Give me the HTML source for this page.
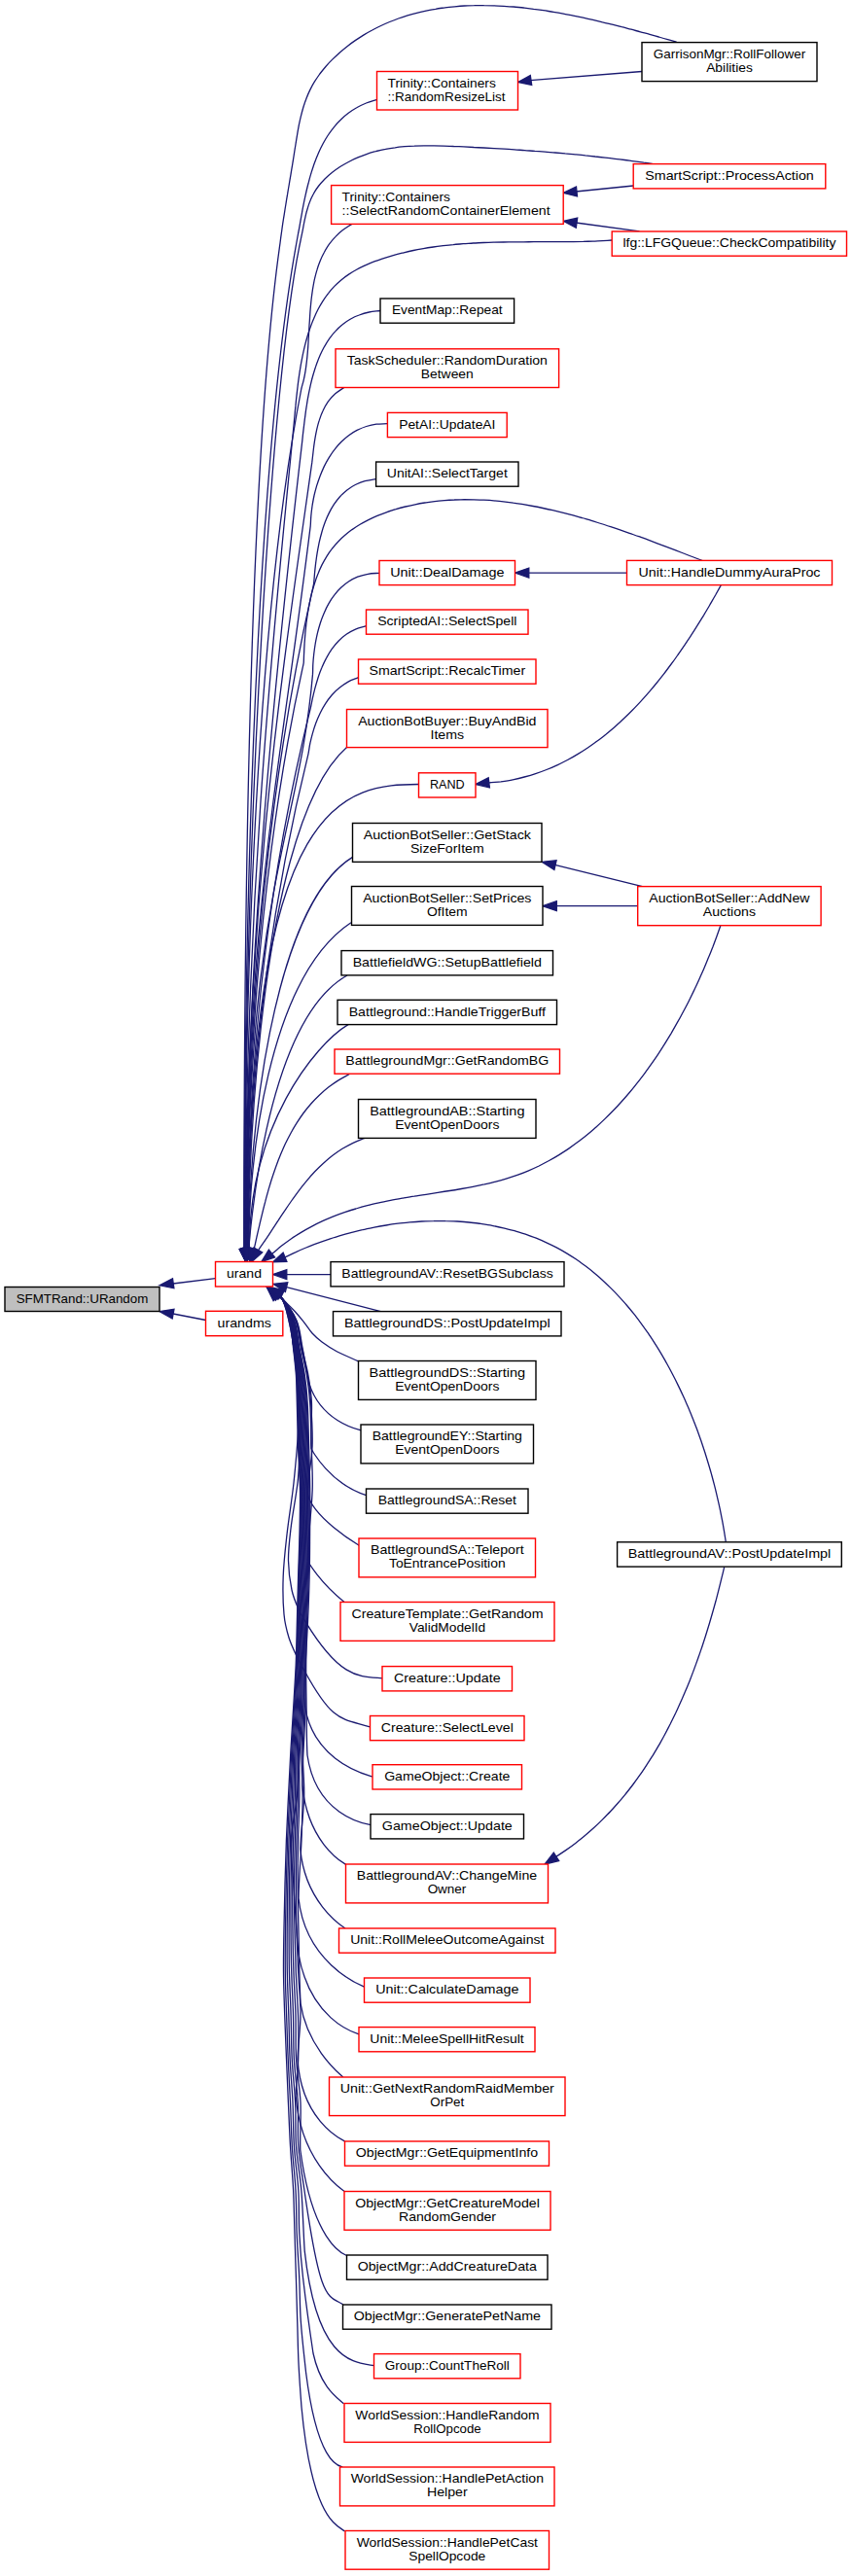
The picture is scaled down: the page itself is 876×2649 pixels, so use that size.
<!DOCTYPE html><html><head><meta charset="utf-8"><title>urand caller graph</title><style>html,body{margin:0;padding:0;background:#fff}svg{display:block}text{font-family:"Liberation Sans",sans-serif;font-size:13px;fill:#000}</style></head><body>
<svg width="876" height="2649" viewBox="0 0 876 2649">
<rect width="876" height="2649" fill="#fff"/>
<g fill="none" stroke="#191970" stroke-width="1.3">
<path d="M695.6,43.2C692.6,42.3 689.6,41.5 686.6,40.6C683.5,39.8 680.4,38.9 677.4,38.0C674.2,37.2 671.1,36.3 668.0,35.4C664.9,34.5 661.7,33.7 658.5,32.8C655.3,31.9 652.1,31.1 648.9,30.2C645.7,29.4 642.5,28.5 639.2,27.7C636.0,26.8 632.7,26.0 629.4,25.2C626.1,24.4 622.8,23.5 619.5,22.8C616.2,22.0 612.9,21.2 609.5,20.4C606.2,19.7 602.8,18.9 599.5,18.2C596.1,17.5 592.7,16.8 589.4,16.1C586.0,15.4 582.6,14.8 579.2,14.1C575.8,13.5 572.4,12.9 569.0,12.3C565.6,11.8 562.2,11.2 558.8,10.7C555.4,10.2 552.0,9.7 548.6,9.3C545.2,8.8 541.7,8.4 538.3,8.0C534.9,7.7 531.5,7.3 528.1,7.0C524.7,6.7 521.3,6.5 517.9,6.3C514.5,6.1 511.1,5.9 507.7,5.8C504.3,5.7 500.9,5.6 497.6,5.6C494.2,5.5 490.8,5.6 487.5,5.7C484.1,5.7 480.8,5.9 477.4,6.0C474.1,6.2 470.8,6.5 467.5,6.8C464.2,7.1 460.9,7.4 457.6,7.8C454.3,8.3 451.0,8.7 447.8,9.3C444.5,9.8 441.3,10.4 438.1,11.1C434.9,11.8 431.7,12.5 428.5,13.3C425.3,14.1 422.2,15.0 419.1,15.9C415.9,16.9 412.8,17.9 409.7,19.0C406.7,20.1 403.6,21.3 400.6,22.5C397.5,23.8 394.5,25.1 391.6,26.5C388.6,27.9 385.6,29.4 382.7,31.0C379.8,32.5 376.9,34.2 374.1,35.9C371.2,37.7 368.3,39.5 365.6,41.4C362.8,43.3 360.0,45.3 357.3,47.4C354.6,49.5 352.0,51.7 349.4,53.9C346.9,56.2 344.4,58.5 342.0,60.9C339.6,63.2 337.3,65.7 335.1,68.2C332.9,70.8 330.8,73.3 328.8,76.0C326.9,78.7 325.0,81.4 323.3,84.2C321.6,86.9 320.1,89.8 318.7,92.6C317.3,95.5 316.0,98.5 314.9,101.4C313.7,104.4 312.7,107.5 311.8,110.5C310.9,113.6 310.1,116.7 309.3,119.8C308.5,123.0 307.9,126.2 307.2,129.4C306.6,132.6 306.0,135.8 305.5,139.1C304.9,142.4 304.4,145.7 303.9,149.0C303.3,152.3 302.8,155.7 302.3,159.0C301.8,162.4 301.2,165.7 300.7,169.1C300.1,172.5 299.5,175.9 299.0,179.3C298.4,182.7 297.8,186.1 297.3,189.5C296.7,192.9 296.1,196.3 295.6,199.7C295.0,203.1 294.4,206.6 293.9,210.0C293.3,213.3 292.8,216.7 292.3,220.1C291.7,223.5 291.2,226.8 290.7,230.2C290.2,233.5 289.8,236.8 289.3,240.2C288.8,243.4 288.4,246.7 288.0,250.0C260.9,440.2 250.8,808.4 250.8,1284.0"/>
<path d="M387.5,102.3C383.8,103.5 380.1,104.5 376.5,106.0C373.1,107.4 369.8,109.0 366.7,110.8C363.6,112.5 360.7,114.5 357.9,116.6C355.2,118.6 352.6,120.9 350.2,123.3C347.7,125.6 345.5,128.1 343.3,130.8C341.2,133.4 339.2,136.1 337.3,139.0C335.4,141.8 333.7,144.8 332.1,147.8C330.5,150.8 328.9,154.0 327.5,157.2C326.1,160.4 324.8,163.6 323.6,167.0C322.4,170.3 321.3,173.7 320.2,177.1C319.1,180.5 318.2,184.0 317.3,187.5C316.3,191.0 315.5,194.5 314.7,198.0C313.9,201.6 313.1,205.1 312.4,208.7C311.7,212.2 311.0,215.7 310.4,219.3C309.7,222.8 309.1,226.3 308.5,229.8C307.9,233.2 307.3,236.6 306.6,240.0C306.0,243.4 305.4,246.7 304.8,250.0C271.3,434.5 251.1,809.9 251.1,1284.0"/>
<path d="M671.5,168.6C668.3,168.1 665.1,167.6 661.8,167.2C658.6,166.7 655.3,166.2 652.1,165.8C648.8,165.4 645.5,164.9 642.2,164.5C638.9,164.1 635.5,163.7 632.2,163.3C628.9,162.9 625.5,162.5 622.2,162.1C618.8,161.7 615.4,161.3 612.0,161.0C608.6,160.6 605.2,160.2 601.8,159.9C598.4,159.5 594.9,159.2 591.5,158.9C588.0,158.6 584.6,158.2 581.2,157.9C577.7,157.6 574.2,157.3 570.8,157.0C567.3,156.7 563.8,156.5 560.4,156.2C556.9,155.9 553.4,155.6 549.9,155.4C546.4,155.1 542.9,154.9 539.4,154.6C536.0,154.4 532.5,154.1 529.0,153.9C525.5,153.7 522.0,153.5 518.5,153.2C515.0,153.0 511.5,152.8 508.1,152.6C504.6,152.4 501.1,152.2 497.6,152.0C494.2,151.8 490.7,151.6 487.2,151.5C483.8,151.3 480.3,151.1 476.8,150.9C473.4,150.8 470.0,150.6 466.5,150.5C463.1,150.3 459.7,150.2 456.3,150.1C452.9,150.0 449.5,149.9 446.1,149.8C442.7,149.8 439.3,149.8 436.0,149.8C432.6,149.8 429.3,149.9 425.9,150.1C422.6,150.2 419.3,150.4 416.0,150.7C412.7,151.0 409.4,151.3 406.2,151.8C402.9,152.2 399.7,152.7 396.4,153.4C393.2,154.0 390.0,154.7 386.8,155.5C383.7,156.4 380.5,157.3 377.4,158.3C374.2,159.4 371.1,160.6 368.0,161.9C364.9,163.2 361.9,164.6 358.9,166.2C355.8,167.8 352.9,169.5 350.0,171.3C347.1,173.2 344.3,175.2 341.6,177.3C339.0,179.4 336.4,181.6 334.0,184.0C331.7,186.4 329.4,188.9 327.4,191.5C325.4,194.1 323.6,196.8 322.1,199.7C320.5,202.6 319.2,205.6 318.1,208.6C316.9,211.7 316.0,215.0 315.1,218.2C314.3,221.5 313.6,224.9 312.8,228.3C312.1,231.8 311.5,235.4 310.8,238.9C310.0,242.6 309.3,246.3 308.5,250.0C278.9,391.5 251.4,841.2 251.4,1284.0"/>
<path d="M361.5,230.6C358.5,232.6 355.4,234.4 352.5,236.6C349.9,238.6 347.3,240.9 345.0,243.4C342.7,245.7 340.6,248.3 338.6,250.9C336.7,253.6 335.0,256.3 333.5,259.2C331.9,262.0 330.5,265.0 329.3,268.0C328.0,271.1 326.9,274.2 326.0,277.4C325.0,280.6 324.2,283.9 323.4,287.2C322.7,290.5 322.1,293.9 321.5,297.3C321.0,300.7 320.5,304.2 320.1,307.7C319.7,311.2 319.4,314.7 319.1,318.3C318.8,321.8 318.6,325.4 318.4,329.0C318.1,332.6 317.9,336.1 317.7,339.7C317.5,343.3 317.3,346.8 317.1,350.4C316.9,353.9 316.7,357.4 316.4,360.9C316.1,364.3 315.8,367.8 315.4,371.2C315.0,374.5 314.6,377.9 314.1,381.2C313.6,384.4 313.0,387.7 312.2,390.8C311.5,393.9 310.5,396.9 309.8,400.0C273.5,586.4 251.7,898.3 251.7,1284.0"/>
<path d="M629.2,247.0C626.0,247.2 622.7,247.4 619.5,247.6C616.2,247.8 612.9,247.9 609.6,248.1C606.3,248.2 603.0,248.3 599.7,248.4C596.3,248.4 593.0,248.5 589.7,248.6C586.3,248.6 582.9,248.6 579.5,248.7C576.2,248.7 572.8,248.7 569.4,248.7C566.0,248.7 562.6,248.7 559.1,248.7C555.7,248.7 552.3,248.7 548.9,248.7C545.4,248.7 542.0,248.8 538.5,248.8C535.1,248.8 531.6,248.8 528.2,248.8C524.7,248.9 521.3,248.9 517.8,249.0C514.4,249.0 510.9,249.1 507.4,249.2C504.0,249.3 500.5,249.4 497.1,249.5C493.6,249.7 490.1,249.8 486.7,250.0C483.2,250.2 479.8,250.5 476.3,250.7C472.9,251.0 469.4,251.2 466.0,251.6C462.6,251.9 459.1,252.3 455.7,252.7C452.3,253.1 448.9,253.5 445.5,254.0C442.0,254.5 438.7,255.0 435.3,255.6C431.9,256.2 428.5,256.8 425.1,257.5C421.8,258.2 418.4,259.0 415.1,259.8C411.8,260.6 408.4,261.4 405.1,262.3C401.8,263.3 398.5,264.3 395.3,265.3C392.0,266.4 388.7,267.5 385.5,268.7C382.4,269.9 379.2,271.2 376.1,272.6C373.1,274.0 370.0,275.4 367.1,277.0C364.2,278.6 361.3,280.3 358.6,282.1C355.9,283.9 353.3,285.8 350.8,287.9C348.4,289.9 346.0,292.1 343.8,294.4C341.6,296.7 339.5,299.1 337.6,301.6C335.6,304.1 333.8,306.7 332.1,309.4C330.3,312.2 328.7,315.0 327.2,317.8C325.7,320.7 324.3,323.7 323.0,326.7C321.6,329.8 320.4,332.9 319.3,336.1C318.1,339.3 317.1,342.5 316.1,345.8C315.1,349.1 314.2,352.4 313.4,355.7C312.6,359.1 311.8,362.5 311.1,365.9C310.4,369.4 309.7,372.8 309.1,376.3C308.5,379.8 308.0,383.2 307.5,386.7C307.0,390.2 306.5,393.7 306.1,397.2C305.7,400.7 305.3,404.1 304.9,407.6C304.5,411.0 304.2,414.4 303.9,417.9C303.5,421.2 303.2,424.6 302.9,428.0C302.6,431.2 302.3,434.5 302.0,437.8C285.5,609.8 252.0,908.1 252.0,1284.0"/>
<path d="M391.0,319.5C387.2,320.0 383.3,320.2 379.5,321.0C376.0,321.7 372.6,322.7 369.3,324.0C366.1,325.1 363.0,326.6 360.1,328.3C357.3,329.9 354.6,331.7 352.1,333.8C349.6,335.8 347.2,338.0 345.1,340.4C342.8,342.7 340.8,345.3 338.9,347.9C337.0,350.6 335.3,353.4 333.6,356.3C332.0,359.2 330.5,362.2 329.1,365.3C327.7,368.4 326.5,371.7 325.3,374.9C324.1,378.2 323.1,381.6 322.1,385.0C321.1,388.4 320.2,391.8 319.4,395.3C318.6,398.8 317.9,402.3 317.2,405.8C316.5,409.3 315.9,412.9 315.4,416.4C314.8,419.9 314.3,423.4 313.9,426.9C313.4,430.3 313.0,433.8 312.6,437.2C312.2,440.5 311.8,443.8 311.4,447.1C311.1,450.3 310.8,453.4 310.4,456.6C286.1,666.1 252.3,976.2 252.3,1284.0"/>
<path d="M353.6,398.6C350.6,400.7 347.3,402.5 344.5,405.0C341.9,407.3 339.5,410.1 337.4,412.9C335.4,415.8 333.6,419.0 332.1,422.2C330.5,425.4 329.3,428.9 328.2,432.4C327.0,435.9 326.2,439.5 325.4,443.1C324.6,446.7 324.0,450.4 323.4,454.1C322.8,457.7 322.4,461.4 322.0,465.0C321.6,468.5 321.2,471.9 320.8,475.4C291.0,686.3 252.6,925.7 252.6,1284.0"/>
<path d="M398.4,435.7C394.6,435.9 390.8,435.8 387.0,436.2C383.5,436.7 380.0,437.5 376.6,438.5C373.4,439.5 370.2,440.9 367.1,442.4C364.2,443.9 361.3,445.7 358.6,447.7C355.9,449.7 353.4,451.9 351.0,454.3C348.6,456.6 346.3,459.2 344.3,461.9C342.1,464.6 340.2,467.5 338.4,470.4C336.5,473.4 334.9,476.5 333.3,479.6C331.8,482.8 330.4,486.1 329.1,489.4C327.8,492.8 326.7,496.2 325.6,499.6C324.6,503.1 323.7,506.5 322.9,510.0C322.2,513.5 321.5,517.0 321.0,520.5C320.5,523.9 320.1,527.3 319.8,530.8C319.5,534.1 319.5,537.5 319.2,540.8C288.6,792.1 252.9,937.5 252.9,1284.0"/>
<path d="M386.6,492.7C382.8,493.4 378.9,493.7 375.2,494.7C371.8,495.6 368.5,497.0 365.3,498.5C362.3,500.0 359.5,501.9 356.8,503.9C354.2,506.0 351.7,508.3 349.5,510.7C347.3,513.2 345.2,515.9 343.4,518.7C341.5,521.6 339.8,524.6 338.3,527.6C336.7,530.8 335.3,534.0 334.1,537.3C332.8,540.7 331.7,544.1 330.8,547.5C329.8,551.0 328.9,554.6 328.1,558.1C327.4,561.6 326.7,565.2 326.1,568.8C325.5,572.3 325.1,575.9 324.6,579.4C324.2,582.8 323.8,586.3 323.5,589.7C323.2,593.0 323.0,596.2 322.7,599.5C321.4,611.1 253.2,864.4 253.2,1284.0"/>
<path d="M722.2,576.5C719.2,575.3 716.1,574.2 713.1,573.0C710.1,571.8 707.0,570.6 704.0,569.5C700.9,568.3 697.8,567.1 694.7,565.9C691.6,564.7 688.5,563.5 685.4,562.3C682.2,561.1 679.1,560.0 675.9,558.8C672.8,557.6 669.6,556.4 666.4,555.2C663.2,554.1 660.1,552.9 656.9,551.7C653.6,550.6 650.4,549.4 647.2,548.3C644.0,547.2 640.8,546.1 637.5,544.9C634.3,543.8 631.0,542.7 627.8,541.7C624.5,540.6 621.2,539.5 617.9,538.5C614.7,537.5 611.4,536.4 608.1,535.4C604.8,534.4 601.5,533.5 598.2,532.5C594.8,531.6 591.5,530.6 588.2,529.7C584.9,528.8 581.5,528.0 578.2,527.1C574.9,526.3 571.5,525.5 568.2,524.7C564.8,523.9 561.5,523.2 558.1,522.5C554.8,521.8 551.4,521.1 548.1,520.5C544.7,519.9 541.3,519.3 538.0,518.7C534.6,518.2 531.2,517.6 527.8,517.2C524.5,516.7 521.1,516.3 517.7,515.9C514.3,515.5 511.0,515.2 507.6,514.9C504.2,514.6 500.8,514.4 497.4,514.2C494.1,514.0 490.7,513.9 487.3,513.8C483.9,513.7 480.6,513.7 477.2,513.7C473.8,513.8 470.4,513.8 467.1,514.0C463.7,514.1 460.3,514.3 457.0,514.6C453.6,514.9 450.2,515.2 446.9,515.6C443.5,516.0 440.2,516.5 436.8,517.0C433.5,517.5 430.1,518.1 426.8,518.8C423.4,519.5 420.1,520.2 416.8,521.0C413.5,521.8 410.2,522.7 407.0,523.7C403.7,524.6 400.5,525.7 397.3,526.8C394.1,527.9 391.0,529.1 387.9,530.4C384.8,531.7 381.8,533.1 378.8,534.6C375.9,536.1 373.0,537.6 370.2,539.3C367.4,541.0 364.7,542.8 362.0,544.6C359.4,546.5 356.9,548.5 354.5,550.6C352.0,552.7 349.7,554.9 347.5,557.2C345.3,559.5 343.2,561.9 341.3,564.4C339.3,566.9 337.5,569.6 335.8,572.3C334.1,575.1 332.5,578.0 331.0,580.9C329.6,583.8 328.2,586.9 327.0,590.0C325.7,593.1 324.6,596.3 323.6,599.5C322.5,602.8 321.6,606.1 320.7,609.4C319.8,612.8 319.1,616.2 318.4,619.6C317.7,623.0 317.1,626.5 316.5,629.9C315.9,633.4 315.5,636.9 315.0,640.4C314.6,643.9 314.3,647.4 313.9,650.9C313.6,654.4 313.4,657.9 313.1,661.4C312.9,664.8 312.7,668.2 312.6,671.7C312.4,675.0 312.4,678.4 312.2,681.7C311.9,686.7 253.6,912.7 253.6,1284.0"/>
<path d="M390.0,589.3C386.1,589.6 382.1,589.6 378.2,590.3C374.6,590.9 371.1,591.9 367.7,593.2C364.5,594.5 361.4,596.1 358.5,598.0C355.7,599.8 353.0,602.0 350.6,604.3C348.1,606.6 345.8,609.2 343.8,611.9C341.6,614.7 339.7,617.6 338.0,620.6C336.2,623.7 334.7,626.9 333.3,630.2C331.8,633.6 330.5,637.0 329.4,640.5C328.3,644.0 327.3,647.5 326.4,651.1C325.6,654.7 324.8,658.3 324.2,662.0C323.6,665.6 323.1,669.2 322.7,672.8C322.3,676.3 322.0,679.8 321.8,683.3C321.6,686.7 321.7,690.1 321.5,693.4C307.2,859.0 253.9,914.4 253.9,1284.0"/>
<path d="M376.5,643.7C372.8,644.8 369.0,645.6 365.5,647.1C362.2,648.5 359.0,650.3 356.1,652.3C353.2,654.3 350.5,656.7 348.0,659.2C345.5,661.7 343.3,664.5 341.2,667.3C339.1,670.3 337.3,673.4 335.6,676.6C333.8,679.8 332.3,683.2 330.9,686.6C329.4,690.0 328.2,693.5 327.0,697.0C325.9,700.6 324.9,704.1 323.9,707.7C323.0,711.2 322.1,714.8 321.3,718.3C320.6,721.7 320.0,725.2 319.2,728.6C286.9,858.8 254.2,1041.8 254.2,1284.0"/>
<path d="M368.5,696.7C365.0,698.2 361.3,699.3 358.0,701.1C354.8,702.9 351.8,705.0 349.0,707.3C346.2,709.5 343.6,712.1 341.2,714.8C338.8,717.6 336.6,720.5 334.6,723.6C332.6,726.7 330.8,729.9 329.2,733.2C327.6,736.6 326.1,740.0 324.8,743.5C323.5,747.0 322.4,750.6 321.4,754.2C320.4,757.8 319.5,761.4 318.7,765.0C318.0,768.5 317.6,772.1 316.9,775.6C288.3,891.6 254.5,1074.4 254.5,1284.0"/>
<path d="M356.5,768.4C256.3,856.4 254.8,1281.7 254.8,1284.0"/>
<path d="M430.5,806.5C358.3,807.4 255.1,811.5 255.1,1284.0"/>
<path d="M362.2,881.6C278.5,933.4 255.4,1176.7 255.4,1284.0"/>
<path d="M360.9,948.8C274.7,1006.1 255.7,1196.1 255.7,1284.0"/>
<path d="M357.0,1003.0C270.4,1051.5 256.0,1283.0 256.0,1284.0"/>
<path d="M358.3,1053.4C323.0,1074.5 256.3,1158.7 256.3,1284.0"/>
<path d="M359.3,1104.5C355.5,1106.6 351.6,1108.6 348.0,1110.9C344.4,1113.1 341.0,1115.6 337.7,1118.1C334.4,1120.7 331.3,1123.4 328.3,1126.2C325.3,1129.0 322.5,1132.0 319.8,1135.0C317.1,1138.1 314.5,1141.3 312.1,1144.5C309.7,1147.8 307.4,1151.2 305.2,1154.6C303.0,1158.1 300.9,1161.6 299.0,1165.2C297.0,1168.9 295.1,1172.6 293.3,1176.3C291.6,1180.1 289.9,1183.9 288.3,1187.8C286.7,1191.6 285.2,1195.6 283.8,1199.5C282.4,1203.5 281.0,1207.5 279.7,1211.5C278.4,1215.5 277.2,1219.6 276.0,1223.6C274.9,1227.7 273.7,1231.8 272.7,1235.9C271.6,1239.9 270.6,1244.0 269.6,1248.1C268.6,1252.2 267.6,1256.2 266.7,1260.3C265.7,1264.3 264.8,1268.3 263.9,1272.3C263.0,1276.3 262.3,1280.3 261.2,1284.2"/>
<path d="M374.9,1170.5C370.9,1172.1 366.9,1173.5 363.0,1175.3C359.3,1177.1 355.6,1179.2 352.0,1181.3C348.5,1183.5 345.2,1185.8 341.9,1188.3C338.6,1190.8 335.5,1193.5 332.5,1196.2C329.4,1199.0 326.5,1201.9 323.7,1204.8C320.9,1207.8 318.1,1210.9 315.5,1214.1C312.8,1217.3 310.2,1220.5 307.7,1223.8C305.2,1227.2 302.7,1230.6 300.3,1234.0C297.9,1237.4 295.5,1240.9 293.2,1244.4C290.8,1247.8 288.5,1251.3 286.2,1254.9C283.9,1258.3 281.6,1261.9 279.3,1265.3C277.1,1268.8 274.8,1272.3 272.5,1275.7C270.2,1279.1 267.7,1282.4 265.5,1285.8"/>
<path d="M740.8,952.0C739.5,955.7 738.2,959.3 736.9,963.0C735.6,966.6 734.2,970.3 732.8,974.0C731.3,977.7 729.9,981.4 728.3,985.1C726.8,988.8 725.3,992.6 723.7,996.3C722.1,1000.0 720.4,1003.7 718.7,1007.4C717.0,1011.2 715.3,1014.9 713.5,1018.6C711.7,1022.3 709.9,1026.0 708.1,1029.7C706.2,1033.4 704.3,1037.1 702.3,1040.7C700.4,1044.4 698.4,1048.1 696.3,1051.7C694.3,1055.3 692.2,1059.0 690.1,1062.6C687.9,1066.1 685.8,1069.7 683.5,1073.3C681.3,1076.8 679.1,1080.3 676.8,1083.8C674.5,1087.3 672.1,1090.7 669.7,1094.1C667.3,1097.5 664.9,1100.9 662.4,1104.3C659.9,1107.6 657.4,1110.9 654.8,1114.1C652.3,1117.4 649.7,1120.6 647.0,1123.7C644.3,1126.9 641.6,1130.0 638.9,1133.0C636.2,1136.1 633.4,1139.1 630.5,1142.0C627.7,1144.9 624.8,1147.8 621.9,1150.6C619.0,1153.4 616.0,1156.2 613.0,1158.9C610.0,1161.5 607.0,1164.2 603.9,1166.7C600.8,1169.3 597.6,1171.7 594.5,1174.1C591.3,1176.5 588.1,1178.8 584.8,1181.1C581.5,1183.3 578.2,1185.5 574.8,1187.6C571.5,1189.6 568.1,1191.6 564.6,1193.5C561.2,1195.4 557.7,1197.2 554.2,1199.0C550.6,1200.7 547.1,1202.3 543.5,1203.8C539.8,1205.4 536.2,1206.8 532.5,1208.1C528.8,1209.5 525.0,1210.7 521.2,1211.8C517.4,1213.0 513.6,1214.1 509.8,1215.1C505.9,1216.1 502.0,1217.0 498.1,1217.9C494.2,1218.7 490.3,1219.6 486.3,1220.3C482.3,1221.1 478.4,1221.8 474.4,1222.5C470.4,1223.2 466.3,1223.9 462.3,1224.5C458.3,1225.2 454.3,1225.8 450.2,1226.4C446.2,1227.0 442.1,1227.7 438.1,1228.3C434.0,1228.9 429.9,1229.5 425.9,1230.2C421.8,1230.8 417.8,1231.5 413.7,1232.2C409.7,1232.9 405.7,1233.6 401.6,1234.4C397.6,1235.2 393.6,1236.0 389.6,1236.9C385.6,1237.8 381.6,1238.7 377.7,1239.7C373.7,1240.7 369.8,1241.8 365.9,1243.0C362.0,1244.1 358.1,1245.4 354.3,1246.7C350.4,1248.0 346.6,1249.4 342.8,1250.9C339.1,1252.4 335.3,1254.0 331.6,1255.7C327.9,1257.4 324.3,1259.2 320.7,1261.1C317.1,1263.0 313.5,1265.0 310.0,1267.1C306.5,1269.2 303.0,1271.4 299.6,1273.7C296.2,1276.1 292.9,1278.5 289.6,1281.1C286.3,1283.6 283.3,1286.5 280.0,1289.1"/>
<path d="M746.3,1585.6C745.7,1581.9 745.1,1578.1 744.5,1574.4C743.9,1570.6 743.2,1566.9 742.5,1563.1C741.7,1559.3 741.0,1555.4 740.2,1551.6C739.4,1547.8 738.5,1543.9 737.6,1540.1C736.7,1536.2 735.8,1532.3 734.8,1528.4C733.8,1524.5 732.8,1520.6 731.7,1516.7C730.6,1512.8 729.5,1508.9 728.3,1505.0C727.1,1501.0 725.9,1497.1 724.7,1493.2C723.4,1489.3 722.1,1485.4 720.8,1481.5C719.4,1477.6 718.0,1473.7 716.6,1469.8C715.1,1466.0 713.6,1462.1 712.1,1458.2C710.6,1454.4 709.0,1450.5 707.4,1446.7C705.7,1442.9 704.1,1439.1 702.3,1435.3C700.6,1431.5 698.8,1427.8 697.0,1424.1C695.2,1420.3 693.3,1416.6 691.4,1413.0C689.5,1409.3 687.6,1405.7 685.5,1402.0C683.5,1398.5 681.5,1394.9 679.4,1391.4C677.3,1387.8 675.1,1384.4 672.9,1380.9C670.7,1377.5 668.5,1374.1 666.2,1370.7C663.9,1367.4 661.5,1364.1 659.1,1360.8C656.7,1357.6 654.3,1354.4 651.8,1351.2C649.3,1348.1 646.8,1345.0 644.2,1342.0C641.6,1338.9 638.9,1336.0 636.2,1333.1C633.6,1330.2 630.8,1327.3 628.0,1324.6C625.2,1321.8 622.4,1319.1 619.5,1316.4C616.6,1313.8 613.6,1311.3 610.6,1308.8C607.7,1306.3 604.6,1303.9 601.5,1301.6C598.4,1299.3 595.3,1297.0 592.1,1294.8C588.9,1292.7 585.6,1290.6 582.3,1288.6C579.0,1286.6 575.6,1284.7 572.2,1282.9C568.8,1281.1 565.4,1279.4 561.8,1277.8C558.3,1276.2 554.8,1274.7 551.2,1273.2C547.6,1271.8 543.9,1270.5 540.2,1269.2C536.5,1268.0 532.8,1266.8 529.0,1265.7C525.2,1264.7 521.4,1263.7 517.6,1262.8C513.8,1261.9 509.9,1261.1 506.0,1260.3C502.1,1259.6 498.1,1259.0 494.2,1258.4C490.2,1257.9 486.3,1257.4 482.3,1257.0C478.3,1256.6 474.3,1256.3 470.2,1256.0C466.2,1255.8 462.1,1255.6 458.1,1255.6C454.0,1255.5 450.0,1255.5 445.9,1255.6C441.8,1255.6 437.7,1255.8 433.6,1256.0C429.6,1256.2 425.5,1256.5 421.4,1256.9C417.3,1257.3 413.2,1257.7 409.1,1258.2C405.1,1258.7 401.0,1259.3 396.9,1260.0C392.9,1260.6 388.8,1261.3 384.8,1262.1C380.8,1262.9 376.7,1263.7 372.7,1264.7C368.7,1265.6 364.8,1266.6 360.8,1267.6C356.8,1268.6 352.9,1269.7 349.0,1270.9C345.1,1272.1 341.2,1273.3 337.4,1274.6C333.5,1275.9 329.7,1277.2 325.9,1278.6C322.1,1280.0 318.4,1281.5 314.7,1283.0C311.0,1284.5 307.3,1286.1 303.7,1287.8C300.1,1289.4 296.6,1291.2 293.0,1292.8"/>
<path d="M660.0,73.5L545.0,82.6"/>
<path d="M651.2,191.0L592.0,197.0"/>
<path d="M657.5,237.8L592.0,229.0"/>
<path d="M644.5,589.1L543.5,589.1"/>
<path d="M741.3,601.8C739.4,605.2 737.5,608.6 735.6,612.0C733.6,615.4 731.7,618.8 729.7,622.3C727.7,625.7 725.6,629.1 723.6,632.6C721.5,636.0 719.4,639.5 717.2,642.9C715.1,646.3 712.9,649.8 710.7,653.2C708.5,656.6 706.2,660.0 703.9,663.4C701.6,666.8 699.3,670.2 696.9,673.5C694.6,676.9 692.2,680.2 689.7,683.5C687.3,686.8 684.8,690.1 682.3,693.4C679.8,696.6 677.2,699.8 674.6,703.0C672.0,706.2 669.3,709.3 666.7,712.4C664.0,715.5 661.3,718.6 658.5,721.6C655.7,724.6 652.9,727.6 650.0,730.5C647.2,733.4 644.3,736.2 641.3,739.0C638.4,741.8 635.4,744.5 632.4,747.2C629.4,749.8 626.3,752.4 623.2,755.0C620.0,757.5 616.9,760.0 613.7,762.3C610.5,764.7 607.2,767.0 603.9,769.2C600.6,771.4 597.2,773.6 593.8,775.6C590.4,777.7 587.0,779.6 583.5,781.5C580.0,783.4 576.4,785.1 572.8,786.8C569.2,788.5 565.6,790.1 561.9,791.5C558.2,793.0 554.4,794.4 550.6,795.6C546.8,796.9 542.9,798.0 539.1,799.0C535.1,800.1 531.2,801.0 527.2,801.8C523.2,802.6 519.1,803.2 515.0,803.8C510.9,804.3 506.7,804.5 502.5,805.0"/>
<path d="M660.5,911.6L570.5,889.4"/>
<path d="M655.7,931.7L572.0,931.7"/>
<path d="M744.7,1611.3C743.8,1615.2 742.9,1619.0 741.9,1622.9C741.0,1626.8 740.0,1630.7 739.0,1634.6C738.0,1638.5 737.0,1642.4 736.0,1646.3C734.9,1650.2 733.8,1654.1 732.7,1658.0C731.6,1661.9 730.5,1665.8 729.3,1669.7C728.1,1673.7 726.9,1677.6 725.7,1681.5C724.5,1685.4 723.2,1689.3 721.9,1693.2C720.6,1697.0 719.3,1700.9 717.9,1704.8C716.5,1708.7 715.1,1712.5 713.7,1716.4C712.3,1720.2 710.8,1724.1 709.3,1727.9C707.8,1731.7 706.2,1735.5 704.6,1739.3C703.0,1743.1 701.4,1746.9 699.7,1750.6C698.0,1754.3 696.3,1758.1 694.6,1761.8C692.8,1765.5 691.0,1769.1 689.2,1772.8C687.3,1776.4 685.5,1780.1 683.5,1783.7C681.6,1787.3 679.6,1790.8 677.6,1794.4C675.6,1797.9 673.5,1801.4 671.4,1804.8C669.2,1808.3 667.1,1811.7 664.8,1815.1C662.6,1818.5 660.4,1821.9 658.0,1825.2C655.7,1828.5 653.3,1831.8 650.9,1835.0C648.5,1838.2 646.0,1841.4 643.5,1844.5C640.9,1847.7 638.4,1850.8 635.7,1853.8C633.1,1856.8 630.4,1859.8 627.6,1862.8C624.9,1865.7 622.0,1868.6 619.2,1871.4C616.3,1874.3 613.4,1877.1 610.4,1879.8C607.4,1882.5 604.3,1885.2 601.2,1887.8C598.1,1890.4 594.9,1892.9 591.7,1895.4C588.5,1897.9 585.1,1900.3 581.8,1902.6C578.4,1905.0 574.9,1907.2 571.5,1909.5"/>
<path d="M221.5,1314.6L178.0,1320.0"/>
<path d="M211.5,1357.5L178.0,1351.0"/>
<path d="M340.0,1310.6L294.7,1310.6"/>
<path d="M391.5,1348.6L294.6,1323.6"/>
<path d="M289.0,1334.0C290.7,1335.4 292.0,1337.2 293.5,1338.8C296.6,1342.0 299.9,1344.9 302.9,1348.2C306.2,1351.8 309.3,1355.6 312.3,1359.4C315.3,1363.2 317.8,1367.4 321.0,1371.0C324.0,1374.3 327.4,1377.3 331.0,1380.0C336.0,1383.7 341.2,1387.1 346.7,1390.0C353.7,1393.7 361.2,1396.5 368.5,1399.8"/>
<path d="M289.0,1334.0C295.3,1341.1 301.3,1349.3 305.0,1358.0C308.7,1366.6 309.1,1376.6 311.0,1386.0C313.5,1398.6 315.2,1411.4 318.2,1423.9C331.3,1462.8 369.1,1470.2 371.0,1470.8"/>
<path d="M289.0,1334.0C295.2,1341.1 301.0,1349.3 304.6,1358.0C308.2,1366.7 308.4,1376.7 310.5,1386.0C312.5,1395.4 315.2,1404.6 316.9,1414.0C318.5,1423.3 320.0,1432.6 320.4,1442.0C321.1,1457.8 318.8,1473.9 320.1,1489.6C320.7,1491.5 339.3,1525.8 376.5,1537.6"/>
<path d="M289.0,1334.0C295.1,1341.1 300.7,1349.4 304.2,1358.0C307.7,1366.7 308.0,1376.7 310.0,1386.0C311.9,1395.3 314.5,1404.6 316.1,1414.0C317.7,1423.3 318.9,1432.6 319.6,1442.0C320.6,1457.0 321.6,1472.0 321.1,1487.0C320.5,1503.6 316.3,1520.2 316.3,1536.6C322.5,1561.3 367.6,1588.2 369.3,1589.3"/>
<path d="M289.0,1334.0C295.0,1341.0 300.5,1349.4 303.9,1358.0C307.3,1366.7 307.5,1376.7 309.4,1386.0C311.4,1395.3 313.9,1404.6 315.4,1414.0C317.0,1423.3 318.1,1432.6 318.7,1442.0C319.7,1457.0 319.8,1472.0 320.2,1487.0C320.6,1502.0 321.7,1517.0 321.2,1532.0C320.4,1556.2 316.2,1580.4 316.3,1604.4C316.8,1606.3 328.4,1626.6 354.0,1647.5"/>
<path d="M289.0,1334.0C293.4,1340.7 295.0,1349.8 297.0,1358.0C299.3,1367.2 300.6,1376.6 302.0,1386.0C303.6,1397.3 305.0,1408.6 306.0,1420.0C307.3,1435.3 308.9,1450.7 309.0,1466.0C309.1,1484.0 308.2,1502.1 306.5,1520.0C304.9,1537.4 301.0,1554.6 299.0,1572.0C297.7,1583.0 296.3,1594.0 296.5,1605.0C296.7,1615.0 297.9,1625.2 300.0,1635.0C301.4,1641.9 304.2,1648.5 307.0,1655.0C309.0,1659.6 311.9,1663.9 314.5,1668.3C350.6,1727.2 370.1,1724.0 393.0,1725.8"/>
<path d="M289.0,1334.0C293.4,1340.7 295.0,1349.8 297.0,1358.0C299.3,1367.2 300.6,1376.6 302.0,1386.0C303.6,1397.3 305.4,1408.6 306.0,1420.0C306.9,1436.6 307.1,1453.4 306.5,1470.0C305.8,1488.4 303.9,1506.7 302.0,1525.0C300.1,1542.7 297.0,1560.3 295.0,1578.0C293.4,1592.3 291.7,1606.6 291.2,1621.0C290.7,1634.0 290.8,1647.1 292.0,1660.0C292.7,1668.1 294.6,1676.2 297.0,1684.0C299.0,1690.5 302.1,1696.8 305.0,1703.0C307.6,1708.5 310.6,1713.7 313.5,1719.0C342.3,1771.5 350.5,1766.8 380.5,1775.8"/>
<path d="M289.0,1334.0C294.7,1341.0 299.6,1349.5 302.7,1358.0C305.9,1366.8 306.2,1376.7 307.9,1386.0C309.7,1395.3 311.9,1404.6 313.3,1414.0C314.7,1423.3 315.6,1432.6 316.1,1442.0C317.0,1457.0 317.1,1472.0 317.6,1487.0C318.0,1502.0 318.6,1517.0 318.7,1532.0C318.9,1547.0 318.7,1562.0 318.6,1577.0C318.5,1592.0 318.5,1607.0 318.1,1622.0C317.8,1637.0 317.2,1652.0 316.5,1667.0C315.3,1693.1 313.3,1719.2 312.6,1745.3C316.4,1811.5 379.1,1825.5 383.0,1827.0"/>
<path d="M289.0,1334.0C294.6,1341.0 299.3,1349.5 302.4,1358.0C305.5,1366.8 305.7,1376.7 307.4,1386.0C309.1,1395.3 311.3,1404.6 312.6,1414.0C313.9,1423.3 314.7,1432.6 315.3,1442.0C316.1,1457.0 316.3,1472.0 316.7,1487.0C317.2,1502.0 317.8,1517.0 317.9,1532.0C318.1,1547.0 317.9,1562.0 317.8,1577.0C317.7,1592.0 317.6,1607.0 317.2,1622.0C316.9,1637.0 316.0,1652.0 315.6,1667.0C315.2,1682.0 314.8,1697.0 314.7,1712.0C314.6,1727.0 314.9,1742.0 315.1,1757.0C315.4,1773.0 315.1,1789.0 316.0,1805.0C325.3,1869.4 379.1,1876.0 381.0,1876.6"/>
<path d="M289.0,1334.0C294.6,1340.9 299.1,1349.5 302.0,1358.0C305.0,1366.8 305.3,1376.7 306.9,1386.0C308.6,1395.3 310.7,1404.6 311.9,1414.0C313.2,1423.3 313.9,1432.6 314.4,1442.0C315.2,1457.0 315.4,1472.0 315.9,1487.0C316.3,1502.0 317.0,1517.0 317.1,1532.0C317.3,1547.0 317.1,1562.0 317.0,1577.0C316.8,1592.0 316.7,1607.0 316.3,1622.0C316.0,1637.0 315.2,1652.0 314.8,1667.0C314.3,1682.0 314.0,1697.0 313.8,1712.0C313.7,1727.0 314.4,1742.0 314.0,1757.0C313.3,1783.2 311.0,1809.4 310.7,1835.6C316.9,1897.2 353.9,1916.1 355.5,1917.3"/>
<path d="M289.0,1334.0C294.5,1340.9 298.8,1349.5 301.6,1358.0C304.6,1366.9 304.8,1376.7 306.4,1386.0C308.0,1395.3 310.0,1404.6 311.2,1414.0C312.4,1423.3 313.1,1432.6 313.6,1442.0C314.4,1457.0 314.5,1472.0 315.0,1487.0C315.5,1502.0 316.2,1517.0 316.3,1532.0C316.5,1547.0 316.3,1562.0 316.1,1577.0C316.0,1592.0 315.8,1607.0 315.4,1622.0C315.1,1637.0 314.3,1652.0 313.9,1667.0C313.5,1682.0 313.1,1697.0 313.0,1712.0C312.8,1727.0 313.1,1742.0 312.9,1757.0C312.6,1772.0 311.3,1787.0 311.3,1802.0C311.2,1817.0 313.1,1832.0 312.7,1847.0C312.2,1865.2 309.3,1883.3 308.8,1901.4C313.8,1958.0 353.4,1981.8 355.0,1983.0"/>
<path d="M289.0,1334.0C294.4,1340.9 298.5,1349.6 301.3,1358.0C304.2,1366.9 304.4,1376.7 305.9,1386.0C307.5,1395.3 309.4,1404.6 310.5,1414.0C311.7,1423.3 312.3,1432.7 312.8,1442.0C313.5,1457.0 313.7,1472.0 314.2,1487.0C314.6,1502.0 315.4,1517.0 315.6,1532.0C315.8,1547.0 315.5,1562.0 315.3,1577.0C315.2,1592.0 314.9,1607.0 314.6,1622.0C314.2,1637.0 313.5,1652.0 313.0,1667.0C312.6,1682.0 312.3,1697.0 312.1,1712.0C311.9,1727.0 312.1,1742.0 311.7,1757.0C311.4,1772.0 310.1,1787.0 310.0,1802.0C309.9,1817.0 311.1,1832.0 311.1,1847.0C311.1,1862.0 310.5,1877.0 310.0,1892.0C309.2,1912.0 307.2,1932.0 307.0,1952.0C314.2,2020.1 372.7,2042.3 374.5,2043.2"/>
<path d="M289.0,1334.0C294.3,1340.9 298.2,1349.6 300.9,1358.0C303.7,1366.9 304.0,1376.7 305.4,1386.0C306.9,1395.3 308.8,1404.6 309.9,1414.0C310.9,1423.3 311.5,1432.7 311.9,1442.0C312.7,1457.0 312.8,1472.0 313.3,1487.0C313.8,1502.0 314.6,1517.0 314.8,1532.0C315.0,1547.0 314.7,1562.0 314.5,1577.0C314.3,1592.0 314.1,1607.0 313.7,1622.0C313.3,1637.0 312.6,1652.0 312.2,1667.0C311.8,1682.0 311.5,1697.0 311.2,1712.0C310.9,1727.0 311.1,1742.0 310.6,1757.0C310.1,1772.0 309.1,1787.0 308.2,1802.0C307.3,1817.0 306.8,1832.1 305.4,1847.0C303.9,1862.1 300.0,1876.9 299.4,1892.0C298.8,1906.9 300.8,1922.0 301.8,1937.0C303.3,1961.3 304.7,1985.7 307.0,2010.0C319.7,2079.3 367.2,2091.0 369.0,2091.8"/>
<path d="M289.0,1334.0C294.2,1340.9 298.0,1349.6 300.6,1358.0C303.3,1366.9 303.5,1376.7 305.0,1386.0C306.4,1395.3 308.2,1404.6 309.2,1414.0C310.2,1423.3 310.7,1432.7 311.1,1442.0C311.8,1457.0 312.0,1472.0 312.5,1487.0C313.0,1502.0 313.8,1517.0 314.0,1532.0C314.2,1547.0 313.9,1562.0 313.7,1577.0C313.5,1592.0 313.2,1607.0 312.8,1622.0C312.4,1637.0 311.8,1652.0 311.4,1667.0C311.0,1682.0 310.7,1697.0 310.4,1712.0C310.0,1727.0 310.0,1742.0 309.5,1757.0C309.1,1772.0 307.9,1787.0 307.6,1802.0C307.3,1817.0 308.1,1832.0 307.9,1847.0C307.7,1862.0 306.9,1877.0 306.6,1892.0C306.3,1907.0 306.0,1922.0 306.1,1937.0C306.2,1952.0 306.6,1967.0 306.9,1982.0C307.5,2008.0 307.7,2034.1 309.0,2060.0C315.9,2106.5 350.9,2134.1 352.7,2136.0"/>
<path d="M289.0,1334.0C294.1,1340.9 297.7,1349.6 300.2,1358.0C302.9,1367.0 303.1,1376.7 304.5,1386.0C305.9,1395.3 307.6,1404.6 308.5,1414.0C309.5,1423.3 309.9,1432.7 310.3,1442.0C311.0,1457.0 311.2,1472.0 311.7,1487.0C312.2,1502.0 313.1,1517.0 313.3,1532.0C313.5,1547.0 313.2,1562.0 312.9,1577.0C312.7,1592.0 312.4,1607.0 312.0,1622.0C311.6,1637.0 311.0,1652.0 310.6,1667.0C310.1,1682.0 309.9,1697.0 309.5,1712.0C309.2,1727.0 309.0,1742.0 308.4,1757.0C307.9,1772.0 306.7,1787.0 306.4,1802.0C306.0,1817.0 306.6,1832.0 306.3,1847.0C306.1,1862.0 305.2,1877.0 304.9,1892.0C304.6,1907.0 304.3,1922.0 304.3,1937.0C304.3,1952.0 304.5,1967.0 304.9,1982.0C305.3,1997.0 305.9,2012.0 306.6,2027.0C307.3,2042.0 309.1,2057.0 309.0,2072.0C308.9,2087.2 306.4,2102.4 306.0,2117.6C310.0,2182.1 352.8,2200.9 354.5,2202.0"/>
<path d="M289.0,1334.0C294.1,1340.8 297.4,1349.6 299.9,1358.0C302.5,1367.0 302.7,1376.7 304.0,1386.0C305.4,1395.3 307.0,1404.6 307.9,1414.0C308.8,1423.3 309.2,1432.7 309.5,1442.0C310.2,1457.0 310.4,1472.0 310.9,1487.0C311.4,1502.0 312.3,1517.0 312.5,1532.0C312.7,1547.0 312.4,1562.0 312.2,1577.0C311.9,1592.0 311.5,1607.0 311.1,1622.0C310.7,1637.0 310.2,1652.0 309.7,1667.0C309.3,1682.0 309.1,1697.0 308.7,1712.0C308.3,1727.0 308.0,1742.0 307.4,1757.0C306.8,1772.0 305.6,1787.0 305.2,1802.0C304.8,1817.0 305.1,1832.0 304.8,1847.0C304.5,1862.0 303.6,1877.0 303.3,1892.0C302.9,1907.0 302.6,1922.0 302.5,1937.0C302.5,1952.0 302.6,1967.0 302.9,1982.0C303.2,1997.0 303.7,2012.0 304.2,2027.0C304.8,2042.0 306.0,2057.0 306.5,2072.0C306.9,2087.0 307.2,2102.0 306.7,2117.0C306.4,2129.7 304.4,2142.3 304.1,2155.0C309.2,2224.2 352.5,2252.2 354.0,2253.5"/>
<path d="M289.0,1334.0C294.0,1340.8 297.2,1349.7 299.5,1358.0C302.0,1367.0 302.3,1376.7 303.6,1386.0C304.9,1395.3 306.4,1404.6 307.3,1414.0C308.1,1423.3 308.4,1432.7 308.8,1442.0C309.4,1457.0 309.6,1472.0 310.1,1487.0C310.6,1502.0 311.6,1517.0 311.8,1532.0C312.0,1547.0 311.6,1562.0 311.4,1577.0C311.2,1592.0 310.7,1607.0 310.3,1622.0C309.9,1637.0 309.4,1652.0 308.9,1667.0C308.5,1682.0 308.3,1697.0 307.9,1712.0C307.4,1727.0 307.0,1742.0 306.3,1757.0C305.7,1772.0 304.5,1787.0 304.0,1802.0C303.5,1817.0 303.7,1832.0 303.3,1847.0C302.9,1862.0 302.1,1877.0 301.6,1892.0C301.2,1907.0 300.9,1922.0 300.8,1937.0C300.7,1952.0 300.7,1967.0 300.9,1982.0C301.1,1997.0 301.4,2012.0 301.9,2027.0C302.4,2042.0 303.5,2057.0 304.0,2072.0C304.4,2087.0 303.7,2102.0 304.5,2117.0C305.3,2132.0 308.3,2147.0 309.0,2162.0C309.7,2178.3 308.2,2194.7 308.8,2211.0C322.0,2309.0 354.8,2318.5 356.5,2319.5"/>
<path d="M289.0,1334.0C293.9,1340.8 296.9,1349.7 299.2,1358.0C301.6,1367.0 301.9,1376.7 303.1,1386.0C304.4,1395.3 305.8,1404.6 306.6,1414.0C307.4,1423.3 307.7,1432.7 308.0,1442.0C308.6,1457.0 308.8,1472.0 309.3,1487.0C309.8,1502.0 310.8,1517.0 311.1,1532.0C311.3,1547.0 310.9,1562.0 310.7,1577.0C310.4,1592.0 309.9,1607.0 309.5,1622.0C309.1,1637.0 308.6,1652.0 308.2,1667.0C307.8,1682.0 307.5,1697.0 307.1,1712.0C306.6,1727.0 306.0,1742.0 305.3,1757.0C304.6,1772.0 303.5,1787.0 302.9,1802.0C302.3,1817.0 302.3,1832.0 301.8,1847.0C301.3,1862.0 300.5,1877.0 300.1,1892.0C299.6,1907.0 299.3,1922.0 299.1,1937.0C298.9,1952.0 298.9,1967.0 299.0,1982.0C299.1,1997.0 299.2,2012.0 299.7,2027.0C300.1,2042.0 301.1,2057.0 301.5,2072.0C301.9,2087.0 301.5,2102.0 302.3,2117.0C303.1,2132.0 305.5,2147.0 306.3,2162.0C307.0,2177.0 305.7,2192.1 306.8,2207.0C307.8,2221.4 310.6,2235.7 312.6,2250.0C329.2,2366.6 336.0,2360.3 352.6,2369.6"/>
<path d="M289.0,1334.0C293.8,1340.8 296.7,1349.7 298.9,1358.0C301.2,1367.0 301.5,1376.7 302.7,1386.0C303.9,1395.3 305.3,1404.6 306.0,1414.0C306.8,1423.3 307.0,1432.7 307.3,1442.0C307.8,1457.0 308.0,1472.0 308.5,1487.0C309.1,1502.0 310.1,1517.0 310.4,1532.0C310.6,1547.0 310.2,1562.0 309.9,1577.0C309.6,1592.0 309.1,1607.0 308.7,1622.0C308.3,1637.0 307.8,1652.0 307.4,1667.0C307.0,1682.0 306.8,1697.0 306.3,1712.0C305.7,1727.0 305.0,1742.0 304.3,1757.0C303.5,1772.0 302.4,1787.0 301.8,1802.0C301.1,1817.0 300.9,1832.0 300.4,1847.0C299.8,1862.0 299.0,1877.0 298.5,1892.0C298.0,1907.0 297.7,1922.0 297.4,1937.0C297.2,1952.0 297.1,1967.0 297.1,1982.0C297.1,1997.0 297.1,2012.0 297.4,2027.0C297.8,2042.0 298.7,2057.0 299.1,2072.0C299.6,2087.0 299.4,2102.0 300.2,2117.0C300.9,2132.0 302.9,2147.0 303.6,2162.0C304.3,2177.0 303.5,2192.0 304.5,2207.0C305.6,2222.0 308.6,2237.0 309.8,2252.0C311.5,2272.8 311.8,2293.8 313.2,2314.6C326.0,2430.1 363.9,2429.1 384.5,2432.6"/>
<path d="M289.0,1334.0C293.8,1340.8 296.4,1349.7 298.6,1358.0C300.9,1367.1 301.1,1376.7 302.3,1386.0C303.4,1395.3 304.7,1404.6 305.4,1414.0C306.1,1423.3 306.3,1432.7 306.6,1442.0C307.1,1457.0 307.3,1472.0 307.8,1487.0C308.3,1502.0 309.4,1517.0 309.7,1532.0C309.9,1547.0 309.5,1562.0 309.2,1577.0C308.9,1592.0 308.4,1607.0 307.9,1622.0C307.5,1637.0 307.1,1652.0 306.7,1667.0C306.3,1682.0 306.1,1697.0 305.5,1712.0C304.9,1727.0 304.1,1742.0 303.3,1757.0C302.5,1772.0 301.4,1787.0 300.7,1802.0C300.0,1817.0 299.6,1832.0 299.0,1847.0C298.4,1862.0 297.6,1877.0 297.0,1892.0C296.5,1907.0 296.1,1922.0 295.8,1937.0C295.5,1952.0 295.3,1967.0 295.2,1982.0C295.1,1997.0 295.0,2012.0 295.3,2027.0C295.6,2042.0 296.3,2057.0 296.8,2072.0C297.3,2087.0 297.4,2102.0 298.1,2117.0C298.8,2132.0 300.3,2147.0 301.0,2162.0C301.7,2177.0 301.4,2192.0 302.4,2207.0C303.3,2222.0 305.9,2237.0 306.8,2252.0C307.7,2267.0 307.0,2282.0 307.8,2297.0C308.6,2312.0 309.8,2327.1 311.5,2342.0C314.5,2368.1 318.1,2394.1 322.0,2420.0C329.6,2454.8 346.2,2465.4 353.4,2471.7"/>
<path d="M289.0,1334.0C293.7,1340.8 296.2,1349.7 298.3,1358.0C300.5,1367.1 300.7,1376.7 301.9,1386.0C303.0,1395.3 304.2,1404.6 304.9,1414.0C305.5,1423.3 305.6,1432.7 305.9,1442.0C306.3,1457.0 306.6,1472.0 307.1,1487.0C307.6,1502.0 308.8,1517.0 309.0,1532.0C309.3,1547.0 308.9,1562.0 308.6,1577.0C308.2,1592.0 307.6,1607.0 307.2,1622.0C306.8,1637.0 306.4,1652.0 306.0,1667.0C305.6,1682.0 305.4,1697.0 304.8,1712.0C304.2,1727.0 303.2,1742.0 302.4,1757.0C301.5,1772.0 300.5,1787.0 299.7,1802.0C298.9,1817.0 298.3,1832.0 297.7,1847.0C297.0,1862.0 296.2,1877.0 295.6,1892.0C295.1,1907.0 294.6,1922.0 294.3,1937.0C293.9,1952.0 293.7,1967.0 293.5,1982.0C293.3,1997.0 293.1,2012.0 293.3,2027.0C293.4,2042.0 294.1,2057.0 294.6,2072.0C295.1,2087.0 295.5,2102.0 296.2,2117.0C296.8,2132.0 297.8,2147.0 298.5,2162.0C299.2,2177.0 299.4,2192.0 300.3,2207.0C301.2,2222.0 303.2,2237.0 304.0,2252.0C304.8,2267.0 304.6,2282.0 305.2,2297.0C305.8,2312.0 307.0,2327.0 307.7,2342.0C308.4,2357.0 308.2,2372.0 309.3,2387.0C310.5,2404.7 312.7,2422.3 314.6,2440.0C327.1,2538.4 350.5,2535.7 352.2,2536.8"/>
<path d="M289.0,1334.0C293.6,1340.8 296.0,1349.7 298.0,1358.0C300.2,1367.1 300.4,1376.7 301.5,1386.0C302.6,1395.3 303.7,1404.6 304.4,1414.0C305.0,1423.3 305.0,1432.7 305.3,1442.0C305.7,1457.0 306.0,1472.0 306.5,1487.0C307.0,1502.0 308.2,1517.0 308.5,1532.0C308.7,1547.0 308.3,1562.0 308.0,1577.0C307.7,1592.0 307.0,1607.0 306.6,1622.0C306.1,1637.0 305.8,1652.0 305.4,1667.0C305.0,1682.0 304.8,1697.0 304.2,1712.0C303.5,1727.0 302.5,1742.0 301.6,1757.0C300.7,1772.0 299.7,1787.0 298.8,1802.0C298.0,1817.0 297.2,1832.0 296.5,1847.0C295.8,1862.0 295.0,1877.0 294.4,1892.0C293.8,1907.0 293.4,1922.0 293.0,1937.0C292.6,1952.0 292.2,1967.0 292.0,1982.0C291.7,1997.0 291.4,2012.0 291.5,2027.0C291.6,2042.0 292.2,2057.0 292.7,2072.0C293.2,2087.0 293.9,2102.0 294.5,2117.0C295.1,2132.0 295.7,2147.0 296.4,2162.0C297.1,2177.0 297.6,2192.0 298.5,2207.0C299.4,2222.0 300.8,2237.0 301.6,2252.0C302.3,2267.0 302.5,2282.0 303.0,2297.0C303.4,2312.0 303.9,2327.0 304.4,2342.0C304.8,2357.0 305.3,2372.0 305.7,2387.0C306.2,2402.0 306.3,2417.0 307.1,2432.0C307.8,2446.4 308.9,2460.8 310.0,2475.2C320.9,2592.1 347.0,2596.8 354.6,2603.1"/>
</g><g fill="#191970" stroke="#191970" stroke-width="1.3">
<polygon points="253.1,1298.2 246.1,1284.8 255.5,1283.2"/>
<polygon points="253.1,1298.2 246.4,1284.7 255.9,1283.3"/>
<polygon points="253.1,1298.2 246.6,1284.6 256.2,1283.4"/>
<polygon points="253.1,1298.2 246.9,1284.5 256.5,1283.5"/>
<polygon points="253.1,1298.2 247.2,1284.4 256.8,1283.6"/>
<polygon points="253.1,1298.2 247.5,1284.3 257.1,1283.7"/>
<polygon points="253.1,1298.2 247.8,1284.2 257.4,1283.8"/>
<polygon points="253.1,1298.2 248.1,1284.1 257.7,1283.9"/>
<polygon points="253.1,1298.2 248.4,1284.0 258.0,1284.0"/>
<polygon points="253.1,1298.2 248.8,1283.8 258.3,1284.2"/>
<polygon points="253.1,1298.2 249.1,1283.7 258.6,1284.3"/>
<polygon points="253.1,1298.2 249.4,1283.6 258.9,1284.4"/>
<polygon points="253.1,1298.2 249.7,1283.5 259.2,1284.5"/>
<polygon points="253.1,1298.2 250.0,1283.4 259.5,1284.6"/>
<polygon points="253.1,1298.2 250.3,1283.3 259.8,1284.7"/>
<polygon points="253.1,1298.2 250.6,1283.2 260.1,1284.8"/>
<polygon points="253.1,1298.2 251.0,1283.1 260.4,1284.9"/>
<polygon points="253.1,1298.2 251.3,1283.0 260.7,1285.0"/>
<polygon points="253.1,1298.2 251.6,1282.9 261.0,1285.1"/>
<polygon points="256.5,1298.0 256.5,1282.6 265.9,1285.8"/>
<polygon points="258.5,1297.7 260.9,1283.1 269.7,1287.9"/>
<polygon points="268.8,1297.5 276.4,1285.2 282.6,1293.0"/>
<polygon points="280.7,1297.7 291.1,1288.2 294.9,1297.4"/>
<polygon points="532.5,84.5 545.3,77.6 546.7,87.4"/>
<polygon points="579.2,198.4 592.5,191.9 593.5,201.9"/>
<polygon points="579.2,227.3 593.7,224.2 592.3,234.2"/>
<polygon points="529.5,589.1 543.8,584.1 543.8,594.1"/>
<polygon points="488.8,806.6 502.2,799.8 503.4,809.8"/>
<polygon points="557.0,886.3 572.1,884.7 569.9,894.5"/>
<polygon points="558.0,931.7 572.3,926.7 572.3,936.7"/>
<polygon points="560.0,1917.2 569.3,1905.2 574.7,1913.6"/>
<polygon points="164.0,1321.8 177.5,1314.8 178.9,1324.8"/>
<polygon points="164.0,1348.6 179.0,1346.3 177.2,1356.1"/>
<polygon points="280.5,1310.6 294.8,1305.6 294.8,1315.6"/>
<polygon points="280.8,1320.3 295.8,1318.7 293.4,1328.5"/>
<polygon points="273.8,1322.8 288.1,1331.4 281.1,1337.8"/>
<polygon points="273.8,1322.8 289.6,1329.8 283.4,1337.2"/>
<polygon points="273.8,1322.8 291.1,1328.3 285.9,1336.3"/>
<polygon points="273.8,1322.8 292.4,1326.7 288.2,1335.3"/>
</g>
<rect x="5.0" y="1323.5" width="159.0" height="25.0" fill="#bfbfbf" stroke="#000000" stroke-width="1.4"/>
<text x="84.5" y="1339.7" text-anchor="middle" textLength="135.6" lengthAdjust="spacingAndGlyphs">SFMTRand::URandom</text>
<rect x="221.5" y="1297.5" width="59.0" height="25.5" fill="#ffffff" stroke="#ff0000" stroke-width="1.4"/>
<text x="251.0" y="1313.7" text-anchor="middle" textLength="35.9" lengthAdjust="spacingAndGlyphs">urand</text>
<rect x="211.5" y="1348.3" width="79.3" height="25.4" fill="#ffffff" stroke="#ff0000" stroke-width="1.4"/>
<text x="251.2" y="1364.5" text-anchor="middle" textLength="55.3" lengthAdjust="spacingAndGlyphs">urandms</text>
<rect x="387.5" y="73.5" width="145.0" height="39.5" fill="#ffffff" stroke="#ff0000" stroke-width="1.4"/>
<text x="398.5" y="89.9" textLength="111.3" lengthAdjust="spacingAndGlyphs">Trinity::Containers</text>
<text x="398.5" y="103.9" textLength="121.0" lengthAdjust="spacingAndGlyphs">::RandomResizeList</text>
<rect x="340.6" y="190.6" width="238.6" height="39.8" fill="#ffffff" stroke="#ff0000" stroke-width="1.4"/>
<text x="351.6" y="207.0" textLength="111.3" lengthAdjust="spacingAndGlyphs">Trinity::Containers</text>
<text x="351.6" y="221.0" textLength="214.0" lengthAdjust="spacingAndGlyphs">::SelectRandomContainerElement</text>
<rect x="391.0" y="307.0" width="137.6" height="25.2" fill="#ffffff" stroke="#000000" stroke-width="1.4"/>
<text x="459.8" y="323.2" text-anchor="middle" textLength="113.7" lengthAdjust="spacingAndGlyphs">EventMap::Repeat</text>
<rect x="345.0" y="358.8" width="229.6" height="39.7" fill="#ffffff" stroke="#ff0000" stroke-width="1.4"/>
<text x="459.8" y="375.2" text-anchor="middle" textLength="206.3" lengthAdjust="spacingAndGlyphs">TaskScheduler::RandomDuration</text>
<text x="459.8" y="389.2" text-anchor="middle" textLength="54.0" lengthAdjust="spacingAndGlyphs">Between</text>
<rect x="398.4" y="424.4" width="122.8" height="25.2" fill="#ffffff" stroke="#ff0000" stroke-width="1.4"/>
<text x="459.8" y="440.6" text-anchor="middle" textLength="99.3" lengthAdjust="spacingAndGlyphs">PetAI::UpdateAI</text>
<rect x="386.6" y="475.0" width="146.4" height="25.2" fill="#ffffff" stroke="#000000" stroke-width="1.4"/>
<text x="459.8" y="491.2" text-anchor="middle" textLength="124.0" lengthAdjust="spacingAndGlyphs">UnitAI::SelectTarget</text>
<rect x="390.0" y="576.5" width="139.5" height="25.1" fill="#ffffff" stroke="#ff0000" stroke-width="1.4"/>
<text x="459.8" y="592.7" text-anchor="middle" textLength="117.3" lengthAdjust="spacingAndGlyphs">Unit::DealDamage</text>
<rect x="376.5" y="627.0" width="166.5" height="25.2" fill="#ffffff" stroke="#ff0000" stroke-width="1.4"/>
<text x="459.8" y="643.2" text-anchor="middle" textLength="143.3" lengthAdjust="spacingAndGlyphs">ScriptedAI::SelectSpell</text>
<rect x="368.5" y="678.0" width="182.5" height="25.2" fill="#ffffff" stroke="#ff0000" stroke-width="1.4"/>
<text x="459.8" y="694.2" text-anchor="middle" textLength="160.7" lengthAdjust="spacingAndGlyphs">SmartScript::RecalcTimer</text>
<rect x="356.5" y="729.5" width="206.5" height="39.1" fill="#ffffff" stroke="#ff0000" stroke-width="1.4"/>
<text x="459.8" y="745.9" text-anchor="middle" textLength="183.3" lengthAdjust="spacingAndGlyphs">AuctionBotBuyer::BuyAndBid</text>
<text x="459.8" y="759.9" text-anchor="middle" textLength="34.7" lengthAdjust="spacingAndGlyphs">Items</text>
<rect x="430.5" y="794.8" width="58.5" height="25.2" fill="#ffffff" stroke="#ff0000" stroke-width="1.4"/>
<text x="459.8" y="811.0" text-anchor="middle" textLength="35.7" lengthAdjust="spacingAndGlyphs">RAND</text>
<rect x="362.5" y="846.5" width="194.5" height="39.9" fill="#ffffff" stroke="#000000" stroke-width="1.4"/>
<text x="459.8" y="862.9" text-anchor="middle" textLength="172.3" lengthAdjust="spacingAndGlyphs">AuctionBotSeller::GetStack</text>
<text x="459.8" y="876.9" text-anchor="middle" textLength="75.7" lengthAdjust="spacingAndGlyphs">SizeForItem</text>
<rect x="361.5" y="911.5" width="196.5" height="39.9" fill="#ffffff" stroke="#000000" stroke-width="1.4"/>
<text x="459.8" y="927.9" text-anchor="middle" textLength="173.3" lengthAdjust="spacingAndGlyphs">AuctionBotSeller::SetPrices</text>
<text x="459.8" y="941.9" text-anchor="middle" textLength="41.7" lengthAdjust="spacingAndGlyphs">OfItem</text>
<rect x="351.0" y="977.6" width="217.5" height="25.3" fill="#ffffff" stroke="#000000" stroke-width="1.4"/>
<text x="459.8" y="993.8" text-anchor="middle" textLength="194.3" lengthAdjust="spacingAndGlyphs">BattlefieldWG::SetupBattlefield</text>
<rect x="347.0" y="1028.3" width="225.5" height="25.3" fill="#ffffff" stroke="#000000" stroke-width="1.4"/>
<text x="459.8" y="1044.5" text-anchor="middle" textLength="202.3" lengthAdjust="spacingAndGlyphs">Battleground::HandleTriggerBuff</text>
<rect x="344.0" y="1079.0" width="231.5" height="25.2" fill="#ffffff" stroke="#ff0000" stroke-width="1.4"/>
<text x="459.8" y="1095.2" text-anchor="middle" textLength="209.0" lengthAdjust="spacingAndGlyphs">BattlegroundMgr::GetRandomBG</text>
<rect x="368.5" y="1130.5" width="182.5" height="39.9" fill="#ffffff" stroke="#000000" stroke-width="1.4"/>
<text x="459.8" y="1146.9" text-anchor="middle" textLength="159.3" lengthAdjust="spacingAndGlyphs">BattlegroundAB::Starting</text>
<text x="459.8" y="1160.9" text-anchor="middle" textLength="107.3" lengthAdjust="spacingAndGlyphs">EventOpenDoors</text>
<rect x="340.0" y="1297.6" width="240.0" height="25.3" fill="#ffffff" stroke="#000000" stroke-width="1.4"/>
<text x="460.0" y="1313.8" text-anchor="middle" textLength="217.3" lengthAdjust="spacingAndGlyphs">BattlegroundAV::ResetBGSubclass</text>
<rect x="342.5" y="1348.6" width="234.5" height="25.3" fill="#ffffff" stroke="#000000" stroke-width="1.4"/>
<text x="459.8" y="1364.8" text-anchor="middle" textLength="211.7" lengthAdjust="spacingAndGlyphs">BattlegroundDS::PostUpdateImpl</text>
<rect x="368.5" y="1399.5" width="182.5" height="39.9" fill="#ffffff" stroke="#000000" stroke-width="1.4"/>
<text x="459.8" y="1415.9" text-anchor="middle" textLength="160.7" lengthAdjust="spacingAndGlyphs">BattlegroundDS::Starting</text>
<text x="459.8" y="1429.9" text-anchor="middle" textLength="107.3" lengthAdjust="spacingAndGlyphs">EventOpenDoors</text>
<rect x="371.0" y="1465.0" width="177.5" height="39.9" fill="#ffffff" stroke="#000000" stroke-width="1.4"/>
<text x="459.8" y="1481.4" text-anchor="middle" textLength="154.3" lengthAdjust="spacingAndGlyphs">BattlegroundEY::Starting</text>
<text x="459.8" y="1495.4" text-anchor="middle" textLength="107.3" lengthAdjust="spacingAndGlyphs">EventOpenDoors</text>
<rect x="376.5" y="1531.0" width="166.5" height="25.2" fill="#ffffff" stroke="#000000" stroke-width="1.4"/>
<text x="459.8" y="1547.2" text-anchor="middle" textLength="142.3" lengthAdjust="spacingAndGlyphs">BattlegroundSA::Reset</text>
<rect x="369.0" y="1582.0" width="181.5" height="39.9" fill="#ffffff" stroke="#ff0000" stroke-width="1.4"/>
<text x="459.8" y="1598.4" text-anchor="middle" textLength="157.7" lengthAdjust="spacingAndGlyphs">BattlegroundSA::Teleport</text>
<text x="459.8" y="1612.4" text-anchor="middle" textLength="119.7" lengthAdjust="spacingAndGlyphs">ToEntrancePosition</text>
<rect x="350.0" y="1647.5" width="220.0" height="39.9" fill="#ffffff" stroke="#ff0000" stroke-width="1.4"/>
<text x="460.0" y="1663.9" text-anchor="middle" textLength="197.0" lengthAdjust="spacingAndGlyphs">CreatureTemplate::GetRandom</text>
<text x="460.0" y="1677.9" text-anchor="middle" textLength="78.3" lengthAdjust="spacingAndGlyphs">ValidModelId</text>
<rect x="393.0" y="1713.6" width="133.5" height="25.3" fill="#ffffff" stroke="#ff0000" stroke-width="1.4"/>
<text x="459.8" y="1729.8" text-anchor="middle" textLength="109.7" lengthAdjust="spacingAndGlyphs">Creature::Update</text>
<rect x="380.5" y="1764.5" width="158.5" height="25.2" fill="#ffffff" stroke="#ff0000" stroke-width="1.4"/>
<text x="459.8" y="1780.7" text-anchor="middle" textLength="136.0" lengthAdjust="spacingAndGlyphs">Creature::SelectLevel</text>
<rect x="383.0" y="1814.7" width="153.5" height="25.3" fill="#ffffff" stroke="#ff0000" stroke-width="1.4"/>
<text x="459.8" y="1830.9" text-anchor="middle" textLength="129.3" lengthAdjust="spacingAndGlyphs">GameObject::Create</text>
<rect x="381.0" y="1865.6" width="157.5" height="25.3" fill="#ffffff" stroke="#000000" stroke-width="1.4"/>
<text x="459.8" y="1881.8" text-anchor="middle" textLength="134.0" lengthAdjust="spacingAndGlyphs">GameObject::Update</text>
<rect x="355.5" y="1917.0" width="208.0" height="39.9" fill="#ffffff" stroke="#ff0000" stroke-width="1.4"/>
<text x="459.5" y="1933.4" text-anchor="middle" textLength="185.3" lengthAdjust="spacingAndGlyphs">BattlegroundAV::ChangeMine</text>
<text x="459.5" y="1947.4" text-anchor="middle" textLength="39.7" lengthAdjust="spacingAndGlyphs">Owner</text>
<rect x="348.5" y="1983.0" width="222.5" height="25.2" fill="#ffffff" stroke="#ff0000" stroke-width="1.4"/>
<text x="459.8" y="1999.2" text-anchor="middle" textLength="199.3" lengthAdjust="spacingAndGlyphs">Unit::RollMeleeOutcomeAgainst</text>
<rect x="374.5" y="2034.0" width="170.5" height="25.2" fill="#ffffff" stroke="#ff0000" stroke-width="1.4"/>
<text x="459.8" y="2050.2" text-anchor="middle" textLength="147.3" lengthAdjust="spacingAndGlyphs">Unit::CalculateDamage</text>
<rect x="369.0" y="2084.6" width="181.0" height="25.2" fill="#ffffff" stroke="#ff0000" stroke-width="1.4"/>
<text x="459.5" y="2100.8" text-anchor="middle" textLength="158.3" lengthAdjust="spacingAndGlyphs">Unit::MeleeSpellHitResult</text>
<rect x="338.5" y="2136.0" width="242.5" height="39.6" fill="#ffffff" stroke="#ff0000" stroke-width="1.4"/>
<text x="459.8" y="2152.4" text-anchor="middle" textLength="220.0" lengthAdjust="spacingAndGlyphs">Unit::GetNextRandomRaidMember</text>
<text x="459.8" y="2166.4" text-anchor="middle" textLength="35.0" lengthAdjust="spacingAndGlyphs">OrPet</text>
<rect x="354.5" y="2202.0" width="210.0" height="25.2" fill="#ffffff" stroke="#ff0000" stroke-width="1.4"/>
<text x="459.5" y="2218.2" text-anchor="middle" textLength="187.3" lengthAdjust="spacingAndGlyphs">ObjectMgr::GetEquipmentInfo</text>
<rect x="354.0" y="2253.5" width="212.0" height="39.7" fill="#ffffff" stroke="#ff0000" stroke-width="1.4"/>
<text x="460.0" y="2269.9" text-anchor="middle" textLength="189.7" lengthAdjust="spacingAndGlyphs">ObjectMgr::GetCreatureModel</text>
<text x="460.0" y="2283.9" text-anchor="middle" textLength="100.0" lengthAdjust="spacingAndGlyphs">RandomGender</text>
<rect x="356.5" y="2319.0" width="206.5" height="25.2" fill="#ffffff" stroke="#000000" stroke-width="1.4"/>
<text x="459.8" y="2335.2" text-anchor="middle" textLength="184.3" lengthAdjust="spacingAndGlyphs">ObjectMgr::AddCreatureData</text>
<rect x="352.5" y="2370.0" width="214.5" height="25.2" fill="#ffffff" stroke="#000000" stroke-width="1.4"/>
<text x="459.8" y="2386.2" text-anchor="middle" textLength="192.3" lengthAdjust="spacingAndGlyphs">ObjectMgr::GeneratePetName</text>
<rect x="384.5" y="2420.6" width="150.5" height="25.2" fill="#ffffff" stroke="#ff0000" stroke-width="1.4"/>
<text x="459.8" y="2436.8" text-anchor="middle" textLength="128.0" lengthAdjust="spacingAndGlyphs">Group::CountTheRoll</text>
<rect x="354.0" y="2471.5" width="212.0" height="39.9" fill="#ffffff" stroke="#ff0000" stroke-width="1.4"/>
<text x="460.0" y="2487.9" text-anchor="middle" textLength="189.3" lengthAdjust="spacingAndGlyphs">WorldSession::HandleRandom</text>
<text x="460.0" y="2501.9" text-anchor="middle" textLength="69.3" lengthAdjust="spacingAndGlyphs">RollOpcode</text>
<rect x="349.5" y="2537.0" width="220.5" height="39.9" fill="#ffffff" stroke="#ff0000" stroke-width="1.4"/>
<text x="459.8" y="2553.4" text-anchor="middle" textLength="198.3" lengthAdjust="spacingAndGlyphs">WorldSession::HandlePetAction</text>
<text x="459.8" y="2567.4" text-anchor="middle" textLength="41.7" lengthAdjust="spacingAndGlyphs">Helper</text>
<rect x="355.0" y="2602.5" width="209.5" height="39.7" fill="#ffffff" stroke="#ff0000" stroke-width="1.4"/>
<text x="459.8" y="2618.9" text-anchor="middle" textLength="186.3" lengthAdjust="spacingAndGlyphs">WorldSession::HandlePetCast</text>
<text x="459.8" y="2632.9" text-anchor="middle" textLength="79.0" lengthAdjust="spacingAndGlyphs">SpellOpcode</text>
<rect x="660.0" y="43.6" width="180.0" height="40.0" fill="#ffffff" stroke="#000000" stroke-width="1.4"/>
<text x="750.0" y="60.0" text-anchor="middle" textLength="156.6" lengthAdjust="spacingAndGlyphs">GarrisonMgr::RollFollower</text>
<text x="750.0" y="74.0" text-anchor="middle" textLength="47.7" lengthAdjust="spacingAndGlyphs">Abilities</text>
<rect x="651.2" y="168.6" width="197.6" height="25.3" fill="#ffffff" stroke="#ff0000" stroke-width="1.4"/>
<text x="750.0" y="184.8" text-anchor="middle" textLength="173.5" lengthAdjust="spacingAndGlyphs">SmartScript::ProcessAction</text>
<rect x="629.2" y="238.0" width="241.3" height="25.2" fill="#ffffff" stroke="#ff0000" stroke-width="1.4"/>
<text x="749.9" y="254.2" text-anchor="middle" textLength="219.0" lengthAdjust="spacingAndGlyphs">lfg::LFGQueue::CheckCompatibility</text>
<rect x="644.5" y="576.4" width="211.0" height="25.2" fill="#ffffff" stroke="#ff0000" stroke-width="1.4"/>
<text x="750.0" y="592.6" text-anchor="middle" textLength="186.9" lengthAdjust="spacingAndGlyphs">Unit::HandleDummyAuraProc</text>
<rect x="655.7" y="911.6" width="188.4" height="40.1" fill="#ffffff" stroke="#ff0000" stroke-width="1.4"/>
<text x="749.9" y="928.0" text-anchor="middle" textLength="165.3" lengthAdjust="spacingAndGlyphs">AuctionBotSeller::AddNew</text>
<text x="749.9" y="942.0" text-anchor="middle" textLength="54.1" lengthAdjust="spacingAndGlyphs">Auctions</text>
<rect x="634.6" y="1585.8" width="230.7" height="25.3" fill="#ffffff" stroke="#000000" stroke-width="1.4"/>
<text x="750.0" y="1602.0" text-anchor="middle" textLength="208.5" lengthAdjust="spacingAndGlyphs">BattlegroundAV::PostUpdateImpl</text>
</svg></body></html>
